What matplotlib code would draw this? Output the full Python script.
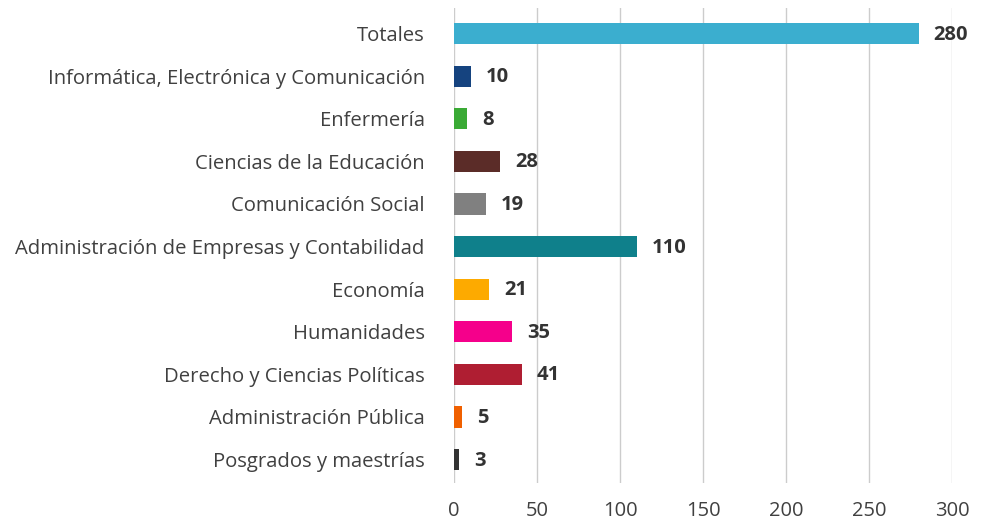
import matplotlib
matplotlib.use("Agg")
import matplotlib.pyplot as plt

categories = ["Totales", "Informática, Electrónica y Comunicación", "Enfermería",
              "Ciencias de la Educación", "Comunicación Social",
              "Administración de Empresas y Contabilidad", "Economía", "Humanidades",
              "Derecho y Ciencias Políticas", "Administración Pública", "Posgrados y maestrías"]
values = [280, 10, 8, 28, 19, 110, 21, 35, 41, 5, 3]
colors = ["#3BAECF", "#15437F", "#3AAA35", "#5B2C28", "#808080", "#0F808B",
          "#FDAA00", "#F5008B", "#AF1E32", "#F06000", "#333333"]
xticks = [0, 50, 100, 150, 200, 250, 300]

plt.rcParams['font.family'] = ['Open Sans', 'DejaVu Sans']

fig = plt.figure(figsize=(9.81, 5.21), dpi=100)
ax = fig.add_axes([0.4628, 0.0729, 0.5076, 0.9117])
y = list(range(len(categories)))
ax.barh(y, values, height=0.5, color=colors, zorder=3)
for yi, v in zip(y, values):
    ax.annotate(str(v), (v, yi), xytext=(15, -1), textcoords="offset pixels",
                ha="left", va="center", fontsize=14.5, fontweight="bold", color="#333333", zorder=4)
ax.set_yticks(y)
ax.set_yticklabels(categories, fontsize=14.6, color="#404040")
ax.set_ylim(10.55, -0.6)
ax.set_xlim(0, 300)
ax.set_xticks(xticks)
ax.set_xticklabels([str(t) for t in xticks], fontsize=14.5, color="#404040")
ax.tick_params(axis="both", length=0)
ax.tick_params(axis="x", pad=13)
ax.tick_params(axis="y", pad=21)
for s in ax.spines.values():
    s.set_visible(False)
ax.grid(axis="x", color="#cccccc", linewidth=1, zorder=0)
ax.set_axisbelow(True)
fig.savefig("out.png", dpi=100)
